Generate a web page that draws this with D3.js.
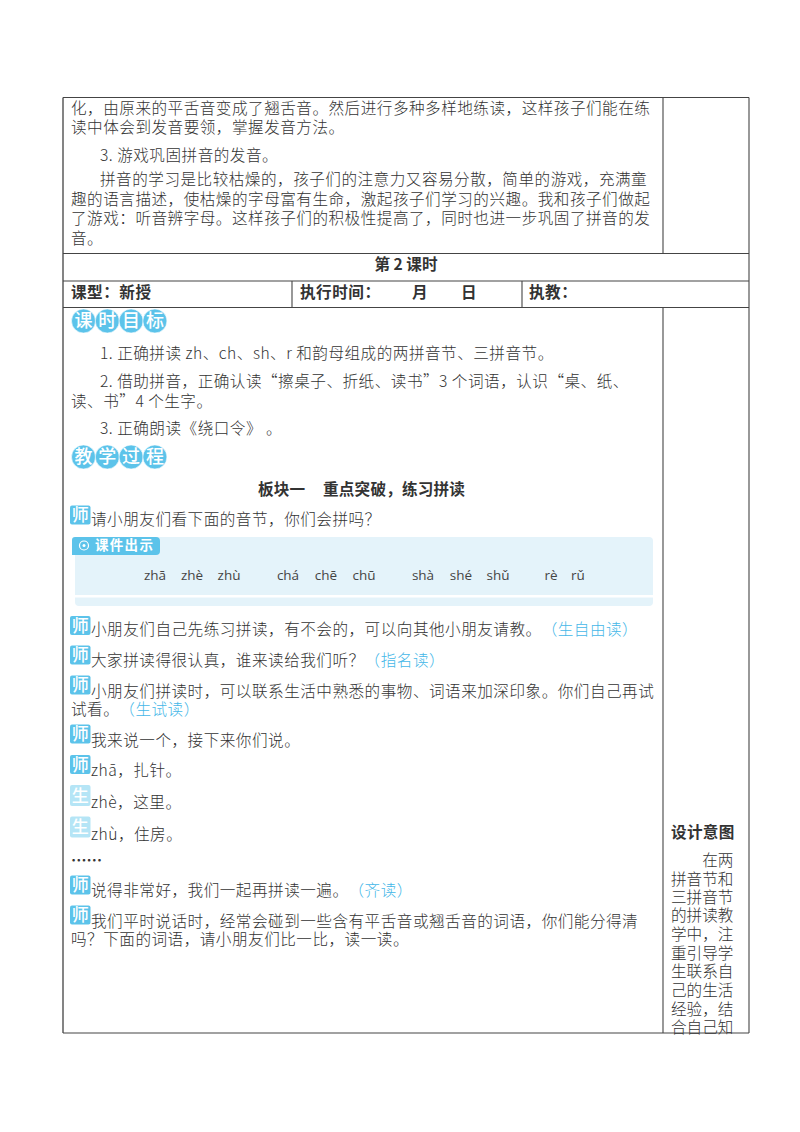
<!DOCTYPE html>
<html lang="zh-CN">
<head>
<meta charset="utf-8">
<script src="https://cdn.jsdelivr.net/npm/d3@7"></script>
<style>
  html, body { margin: 0; padding: 0; background: #fff; }
  svg text {
    font-family: "Noto Sans CJK SC", "Noto Sans", sans-serif;
    text-spacing-trim: space-all;
    font-kerning: none;
  }
</style>
</head>
<body>
<div id="page"></div>
<script>
// page text, one entry per printed line
const bodyLines = [
  "化，由原来的平舌音变成了翘舌音。然后进行多种多样地练读，这样孩子们能在练",
  "读中体会到发音要领，掌握发音方法。",
  "3. 游戏巩固拼音的发音。",
  "拼音的学习是比较枯燥的，孩子们的注意力又容易分散，简单的游戏，充满童",
  "趣的语言描述，使枯燥的字母富有生命，激起孩子们学习的兴趣。我和孩子们做起",
  "了游戏：听音辨字母。这样孩子们的积极性提高了，同时也进一步巩固了拼音的发",
  "音。",
  "1. 正确拼读 zh、ch、sh、r 和韵母组成的两拼音节、三拼音节。",
  "2. 借助拼音，正确认读“擦桌子、折纸、读书”3 个词语，认识“桌、纸、",
  "读、书”4 个生字。",
  "3. 正确朗读《绕口令》 。"
]
const bodyX = [71, 71, 100, 100, 71, 71, 71, 100, 100, 71, 100]
const bodyY = [108, 127, 155, 179, 199, 218, 238, 353, 381, 401, 428]

const headings = ["课时目标", "教学过程"]
const headingY = [321, 457]

const speakers = ["师", "师", "师", "师", "师", "师", "生", "生", "师", "师"]
const speech = [
  "请小朋友们看下面的音节，你们会拼吗？",
  "小朋友们自己先练习拼读，有不会的，可以向其他小朋友请教。",
  "大家拼读得很认真，谁来读给我们听？",
  "小朋友们拼读时，可以联系生活中熟悉的事物、词语来加深印象。你们自己再试",
  "我来说一个，接下来你们说。",
  "zhā，扎针。",
  "zhè，这里。",
  "zhù，住房。",
  "说得非常好，我们一起再拼读一遍。",
  "我们平时说话时，经常会碰到一些含有平舌音或翘舌音的词语，你们能分得清"
]
const speechNotes = ["", "（生自由读）", "（指名读）", "", "", "", "", "", "（齐读）", ""]
const speechY = [519, 629, 660, 691, 740, 770, 802, 834, 890, 921]
const badgeY = [515, 625.5, 655, 685, 734, 764.5, 795.5, 827, 885, 915]

const plainLines = ["试看。", "吗？下面的词语，请小朋友们比一比，读一读。"]
const plainNotes = ["（生试读）", ""]
const plainY = [709, 939]

const pinyin = ["zhā", "zhè", "zhù", "chá", "chē", "chū", "shà", "shé", "shǔ", "rè", "rǔ"]
const pinyinX = [155, 192, 229, 288, 326, 364, 423, 461, 498, 551, 578]

const sideNotes = ["　　在两", "拼音节和", "三拼音节", "的拼读教", "学中，注", "重引导学", "生联系自", "己的生活", "经验，结", "合自己知"]
const sideY = [860, 879, 897, 915, 934, 953, 971, 990, 1009, 1027]

const width = 800
const height = 1132
const ink = "#333"
const blue = "#5cc3ea"
const noteBlue = "#45b7e8"

const svg = d3.select("#page").append("svg")
  .attr("width", width)
  .attr("height", height)
  .style("display", "block")

// table rules
const tableX = d3.scaleOrdinal().domain(["left", "a", "side", "b", "right"]).range([63, 292, 663, 522, 749])
const tableY = d3.scaleOrdinal().domain(["top", "r1", "r2", "r3", "bottom"]).range([97.5, 253.5, 281, 307.5, 1033])
const rules = [
  ["left", "top", "left", "bottom"],
  ["right", "top", "right", "bottom"],
  ["left", "top", "right", "top"],
  ["left", "r1", "right", "r1"],
  ["left", "r2", "right", "r2"],
  ["left", "r3", "right", "r3"],
  ["left", "bottom", "right", "bottom"],
  ["side", "top", "side", "r1"],
  ["side", "r3", "side", "bottom"],
  ["a", "r2", "a", "r3"],
  ["b", "r2", "b", "r3"]
]

function putText(g, str, x, y, opts = {}) {
  return g.append("text")
    .attr("x", x)
    .attr("y", y)
    .attr("dy", "0.36em")
    .attr("fill", opts.fill || ink)
    .attr("text-anchor", opts.anchor || "start")
    .style("font-size", (opts.size || 15.6) + "px")
    .style("font-weight", opts.weight || 300)
    .style("letter-spacing", (opts.spacing === undefined ? 0.5 : opts.spacing) + "px")
    .text(str)
}

const content = svg.append("g")

bodyLines.forEach((line, i) => putText(content, line, bodyX[i], bodyY[i]))

// header rows
putText(content, "第 2 课时", 406, 264, { anchor: "middle", weight: 700, spacing: 0 })
putText(content, "课型：新授", 71, 292, { weight: 700 })
putText(content, "执行时间：", 300, 292, { weight: 700 })
putText(content, "月", 412, 292, { weight: 700 })
putText(content, "日", 461, 292, { weight: 700 })
putText(content, "执教：", 529, 292, { weight: 700 })
putText(content, "板块一", 258, 489, { weight: 700, spacing: 0.2 })
putText(content, "重点突破，练习拼读", 323, 489, { weight: 700, spacing: 0.2 })

// round section heading badges
headings.forEach((word, i) => {
  Array.from(word).forEach((ch, j) => {
    const cx = 83.5 + j * 23.8
    content.append("circle")
      .attr("cx", cx)
      .attr("cy", headingY[i])
      .attr("r", 12)
      .attr("fill", blue)
      .attr("stroke", "#fff")
      .attr("stroke-width", 0.6)
    putText(content, ch, cx, headingY[i], { fill: "#fff", anchor: "middle", size: 18, weight: 500, spacing: 0 })
  })
})

// speaker badges and their lines
function speaker(who, y) {
  const tall = who === "生" ? 21 : 19
  content.append("rect")
    .attr("x", 70)
    .attr("y", y - tall / 2)
    .attr("width", 20.5)
    .attr("height", tall)
    .attr("rx", 2)
    .attr("fill", who === "师" ? blue : "#b5e5f6")
  putText(content, who, 80.2, y, { fill: "#fff", anchor: "middle", size: 17, weight: 500, spacing: 0 })
}

speech.forEach((line, i) => {
  speaker(speakers[i], badgeY[i])
  const t = putText(content, line, 91, speechY[i])
  if (speechNotes[i]) t.append("tspan").attr("fill", noteBlue).text(speechNotes[i])
})
plainLines.forEach((line, i) => {
  const t = putText(content, line, 71, plainY[i])
  if (plainNotes[i]) t.append("tspan").attr("fill", noteBlue).text(plainNotes[i])
})
putText(content, "……", 71, 860, { weight: 700, spacing: 0 })

// courseware panel
const panel = svg.append("g")
panel.append("rect").attr("x", 75).attr("y", 537).attr("width", 578).attr("height", 69).attr("rx", 4).attr("fill", "#e4f3fa")
panel.append("rect").attr("x", 75).attr("y", 595).attr("width", 578).attr("height", 2.5).attr("fill", "#fff")
panel.append("path")
  .attr("d", "M75 537h81a4 4 0 0 1 4 4v10a4 4 0 0 1 -4 4h-84v-15a3 3 0 0 1 3 -3z")
  .attr("fill", blue)
panel.append("circle").attr("cx", 84).attr("cy", 545.5).attr("r", 4.5).attr("fill", "none").attr("stroke", "#fff").attr("stroke-width", 1.2)
panel.append("circle").attr("cx", 84).attr("cy", 545.5).attr("r", 1.5).attr("fill", "#fff")
putText(panel, "课件出示", 95, 545.5, { fill: "#fff", size: 13.5, weight: 700, spacing: 1.3 })

panel.selectAll(".py")
  .data(pinyin)
  .join("text")
  .attr("class", "py")
  .attr("x", (d, i) => pinyinX[i])
  .attr("y", 575)
  .attr("dy", "0.36em")
  .attr("text-anchor", "middle")
  .attr("fill", "#444")
  .style("font-family", "'Open Sans', 'Noto Sans', sans-serif")
  .style("font-size", "13.5px")
  .text(d => d)

// side column
putText(content, "设计意图", 671, 832, { weight: 700, spacing: 0.3 })
sideNotes.forEach((line, i) => putText(content, line, 671, sideY[i], { spacing: 0 }))

// rules go on top so the last side line does not hide them
svg.append("g").selectAll("line")
  .data(rules)
  .join("line")
  .attr("x1", d => tableX(d[0]))
  .attr("y1", d => tableY(d[1]))
  .attr("x2", d => tableX(d[2]))
  .attr("y2", d => tableY(d[3]))
  .attr("stroke", d => d[0] === "left" && d[2] === "left" ? "#777" : "#444")
  .attr("stroke-width", d => d[0] === "left" && d[2] === "left" ? 1.8 : 1.1)
</script>
</body>
</html>
